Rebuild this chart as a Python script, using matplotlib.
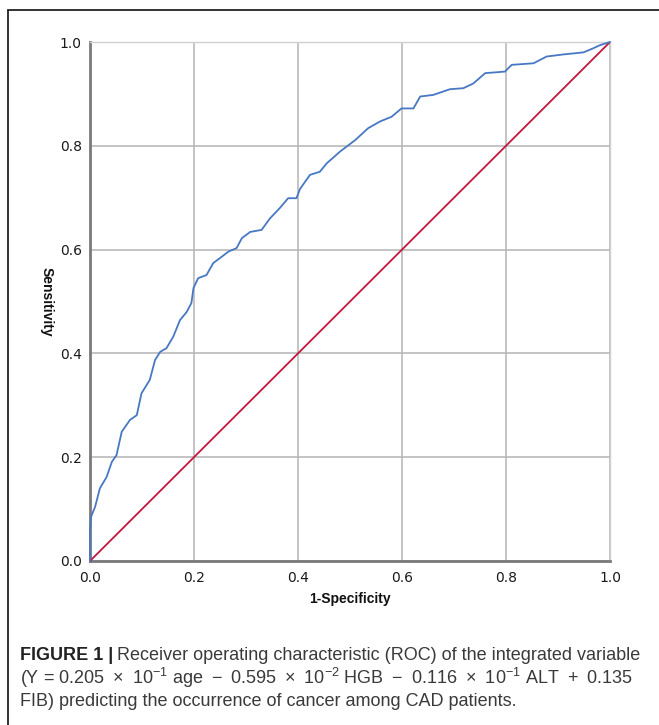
import matplotlib
matplotlib.use('Agg')
import matplotlib.pyplot as plt
from matplotlib.patches import Rectangle

# ROC curve points
fpr = [0.0, 0.0, 0.002, 0.010, 0.019, 0.032, 0.042, 0.051, 0.061, 0.077, 0.090,
       0.099, 0.115, 0.125, 0.135, 0.147, 0.160, 0.173, 0.186, 0.195, 0.199,
       0.208, 0.224, 0.237, 0.253, 0.266, 0.282, 0.292, 0.308, 0.330, 0.346,
       0.365, 0.381, 0.397, 0.404, 0.423, 0.442, 0.455, 0.481, 0.510, 0.535,
       0.558, 0.580, 0.599, 0.622, 0.635, 0.660, 0.692, 0.718, 0.737, 0.760,
       0.798, 0.811, 0.853, 0.878, 0.910, 0.949, 0.968, 0.981, 1.0]
tpr = [0.0, 0.06, 0.085, 0.105, 0.140, 0.162, 0.191, 0.204, 0.249, 0.272, 0.281,
       0.323, 0.349, 0.387, 0.403, 0.410, 0.432, 0.464, 0.480, 0.497, 0.526,
       0.545, 0.551, 0.574, 0.586, 0.596, 0.603, 0.622, 0.634, 0.638, 0.660,
       0.680, 0.699, 0.699, 0.717, 0.744, 0.750, 0.766, 0.789, 0.811, 0.834,
       0.847, 0.856, 0.872, 0.872, 0.895, 0.898, 0.909, 0.911, 0.920, 0.940,
       0.943, 0.956, 0.959, 0.972, 0.976, 0.980, 0.988, 0.994, 1.0]
ref_line = [0.0, 1.0]
ticks = [0.0, 0.2, 0.4, 0.6, 0.8, 1.0]
tick_labels = ['0.0', '0.2', '0.4', '0.6', '0.8', '1.0']

W, H = 659, 725
fig = plt.figure(figsize=(W / 100, H / 100), dpi=100)

# outer frame of the figure panel
fig.add_artist(Rectangle((8 / W, -0.1), 1.2, 1.1 - 10 / H, transform=fig.transFigure,
                         fill=False, edgecolor='#222222', linewidth=1.3))

ax = fig.add_axes([90 / W, 1 - 561 / H, 520 / W, 519 / H])
ax.set_xlim(0, 1)
ax.set_ylim(0, 1)
ax.set_xticks(ticks)
ax.set_yticks(ticks)
ax.set_xticklabels(tick_labels)
ax.set_yticklabels(tick_labels)
ax.tick_params(length=0, labelsize=10, labelcolor='#1a1a1a')
ax.tick_params(axis='x', pad=7)
ax.tick_params(axis='y', pad=6)
ax.grid(True, color='#b4b4b4', linewidth=1.1)
ax.set_axisbelow(True)
for s in ['top', 'right']:
    ax.spines[s].set_color('#d0d0d0')
    ax.spines[s].set_linewidth(1.0)
for s in ['left', 'bottom']:
    ax.spines[s].set_color('#7a7a7a')
    ax.spines[s].set_linewidth(2.0)

ax.plot(ref_line, ref_line, color='#c4163f', linewidth=1.3, zorder=3)
ax.plot(fpr, tpr, color='#4778c4', linewidth=1.3, zorder=4, clip_on=False)

fig.text(350 / W, 1 - 599 / H, '1-Specificity', ha='center', va='center',
         fontsize=10, fontweight='bold', family='Liberation Sans', color='#111111')
fig.text(47 / W, 1 - 302 / H, 'Sensitivity', ha='center', va='center', rotation=-90,
         fontsize=10, fontweight='bold', family='Liberation Sans', color='#111111')

# caption
plt.rcParams['mathtext.fontset'] = 'custom'
plt.rcParams['mathtext.rm'] = 'Liberation Sans'
plt.rcParams['mathtext.it'] = 'Liberation Sans'
cap_size = 13
cap_color = '#3a3a3a'
x0 = 20 / W
sp = '\u2002'
bold = fig.text(x0, 1 - 655 / H, 'FIGURE 1 |', ha='left', va='center', fontsize=cap_size,
                fontweight='bold', family='Liberation Sans', color='#222222')
fig.canvas.draw()
bb = bold.get_window_extent()
fig.text(bb.x1 / W + 4 / W, 1 - 655 / H,
         'Receiver operating characteristic (ROC) of the integrated variable',
         ha='left', va='center', fontsize=cap_size, family='Liberation Sans', color=cap_color)
line2 = ('(Y = 0.205' + sp + '\u00d7' + sp + '10$^{\u22121}$ age' + sp + '\u2212' + sp +
         '0.595' + sp + '\u00d7' + sp + '10$^{\u22122}$ HGB' + sp + '\u2212' + sp +
         '0.116' + sp + '\u00d7' + sp + '10$^{\u22121}$ ALT' + sp + '+' + sp + '0.135')
fig.text(x0, 1 - 678 / H, line2,
         ha='left', va='center', fontsize=cap_size, family='Liberation Sans', color=cap_color)
fig.text(x0, 1 - 701 / H,
         'FIB) predicting the occurrence of cancer among CAD patients.',
         ha='left', va='center', fontsize=cap_size, family='Liberation Sans', color=cap_color)

fig.savefig('out.png', dpi=100)
